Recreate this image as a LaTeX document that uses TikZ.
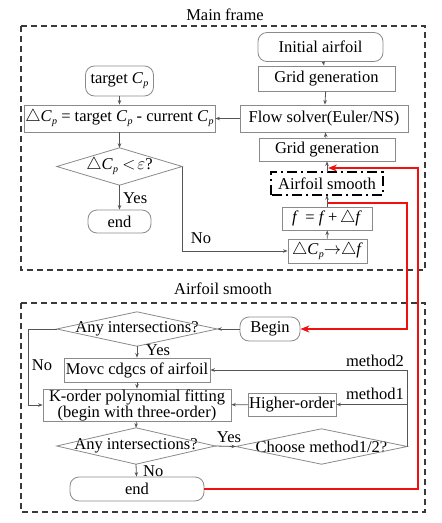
\documentclass[tikz,border=0pt]{standalone}
\usepackage{fontspec}
\setmainfont{Liberation Serif}
\usetikzlibrary{arrows.meta}
\definecolor{boxgray}{HTML}{8A8A8A}
\definecolor{linegray}{HTML}{555555}
\definecolor{framegray}{HTML}{3A3A3A}
\definecolor{myred}{HTML}{F01010}
\newcommand{\Cpx}{\textit{C}\kern0.3pt\raisebox{-0.4ex}{\fontsize{10}{10}\selectfont\textit{p}}}
\newcommand{\Dtri}{$\triangle$}
\begin{document}
\begin{tikzpicture}[x=1pt,y=-1pt,
  every node/.style={font=\fontsize{16.5}{18}\selectfont, inner sep=0pt},
  boxn/.style={draw=boxgray, line width=0.8pt},
  rboxn/.style={draw=boxgray, line width=0.8pt, rounded corners=9pt},
  dtext/.style={},
  dline/.style={draw=boxgray, line width=0.8pt},
  arr/.style={draw=linegray, line width=0.8pt, -{Stealth[length=4.5pt,width=3.5pt]}},
  redline/.style={draw=myred, line width=1.8pt, -{Stealth[length=9pt,width=7pt]}},
  frame/.style={draw=framegray, line width=1.3pt, dash pattern=on 6pt off 4pt},
  dashdot/.style={draw=black, line width=2.3pt, dash pattern=on 10pt off 4pt on 2pt off 4pt},
  lbl/.style={}
]
\useasboundingbox (0,0) rectangle (442,523);

% frames
\node[lbl] (t1) at (225,15) {Main frame};
\draw[frame] (21,26) rectangle (425,270);
\node[lbl] (t2) at (223,289) {Airfoil smooth};
\draw[frame] (21,303) rectangle (425,512);

% main frame nodes
\node[rboxn, minimum width=125pt, minimum height=29pt] (ini) at (320.5,47) {Initial airfoil};
\node[boxn, minimum width=137pt, minimum height=25pt] (gg1) at (326.5,78.5) {Grid generation};
\node[boxn, minimum width=168pt, minimum height=27pt] (flow) at (324,118.5) {Flow solver(Euler/NS)};
\node[rboxn, minimum width=68pt, minimum height=30pt] (tcp) at (119.5,81) {target \Cpx};
\node[boxn, minimum width=191pt, minimum height=27pt] (dcp) at (119.5,118.5) {\Dtri\Cpx\ = target \Cpx\ - current \Cpx};
\node[boxn, minimum width=136pt, minimum height=23pt] (gg2) at (327,149.5) {Grid generation};
\node[minimum width=112pt, minimum height=23pt] (as) at (327,183.5) {Airfoil smooth};
\draw[dashdot] (as.south west) rectangle (as.north east);
\node[boxn, minimum width=90pt, minimum height=23pt] (fb) at (327,218.5) {\textit{f} \,= \textit{f}\,+\,\Dtri\textit{f}};
\node[boxn, minimum width=79pt, minimum height=24pt] (dcf) at (327.5,251) {\Dtri\Cpx$\rightarrow$\Dtri\textit{f}};
\node[dtext, minimum width=125pt, minimum height=37pt] (d1) at (119.5,166.5) {\Dtri\Cpx\ $<\!\varepsilon$?};
\draw[dline] (d1.west)--(d1.north)--(d1.east)--(d1.south)--cycle;
\node[rboxn, minimum width=63pt, minimum height=23pt] (e1) at (119.5,221.5) {end};

% main frame connectors
\draw[arr] (ini) -- (gg1);
\draw[arr] (gg1) -- (flow);
\draw[arr] (gg2) -- (flow);
\draw[arr] (flow) -- (dcp);
\draw[arr] (tcp) -- (dcp);
\draw[arr] (dcp) -- (d1.north);
\draw[arr] (d1.south) -- (e1);
\draw[arr] (as.north) -- (gg2.south);
\draw[arr] (fb) -- (as.south);
\draw[arr] (dcf) -- (fb);
\draw[arr] (d1.east) |- (dcf.west);
\node[lbl, anchor=west] (y1) at (123,198) {Yes};
\node[lbl] (n1) at (201,238) {No};

% airfoil smooth nodes
\node[rboxn, minimum width=60pt, minimum height=24pt] (bg) at (270,329) {Begin};
\node[dtext, minimum width=160pt, minimum height=34pt] (d2) at (137,329) {Any intersections?};
\draw[dline] (d2.west)--(d2.north)--(d2.east)--(d2.south)--cycle;
\node[boxn, minimum width=146pt, minimum height=24pt] (mov) at (137,370) {Movc cdgcs of airfoil};
\node[boxn, minimum width=188pt, minimum height=32pt, align=center, font=\fontsize{16.5}{15}\selectfont] (ko) at (137,405) {K-order polynomial fitting\\(begin with three-order)};
\node[boxn, minimum width=88pt, minimum height=23pt] (hi) at (292,404.5) {Higher-order};
\node[dtext, minimum width=158pt, minimum height=36pt] (d3) at (136,446) {Any intersections?};
\draw[dline] (d3.west)--(d3.north)--(d3.east)--(d3.south)--cycle;
\node[dtext, minimum width=171pt, minimum height=35pt] (ch) at (321.5,446.5) {Choose method1/2?};
\draw[dline] (ch.west)--(ch.north)--(ch.east)--(ch.south)--cycle;
\node[rboxn, minimum width=134pt, minimum height=24pt] (e2) at (137,489) {end};

% airfoil smooth connectors
\draw[arr] (bg) -- (d2.east);
\draw[arr] (d2.south) -- (mov);
\draw[arr] (mov) -- (ko);
\draw[arr] (ko) -- (d3.north);
\draw[arr] (d3.south) -- (e2);
\draw[arr] (d3.east) -- (ch.west);
\draw[arr] (hi) -- (ko);
\draw[arr] (ch.east) |- (mov.east);
\draw[arr] (ch.east |- hi.east) -- (hi.east);
\coordinate (lc) at (28,329);
\draw[arr] (d2.west) -- (lc) |- (ko.west);
\node[lbl] (y2) at (158,350) {Yes};
\node[lbl] (n2) at (42,365) {No};
\node[lbl, anchor=east] (m2) at (404,361) {method2};
\node[lbl, anchor=east] (m1) at (404,394) {method1};
\node[lbl] (y3) at (229,437) {Yes};
\node[lbl, anchor=west] (n3) at (143,471) {No};

% red connectors
\coordinate (r1tip) at (328,168);
\coordinate (rc1) at (418,168);
\draw[redline] (e2.east) -| (rc1) -- (r1tip);
\coordinate (r2s) at (328,203);
\coordinate (rc2) at (407,329);
\draw[redline] (r2s) -| (rc2) -- (bg.east);
\end{tikzpicture}
\end{document}
